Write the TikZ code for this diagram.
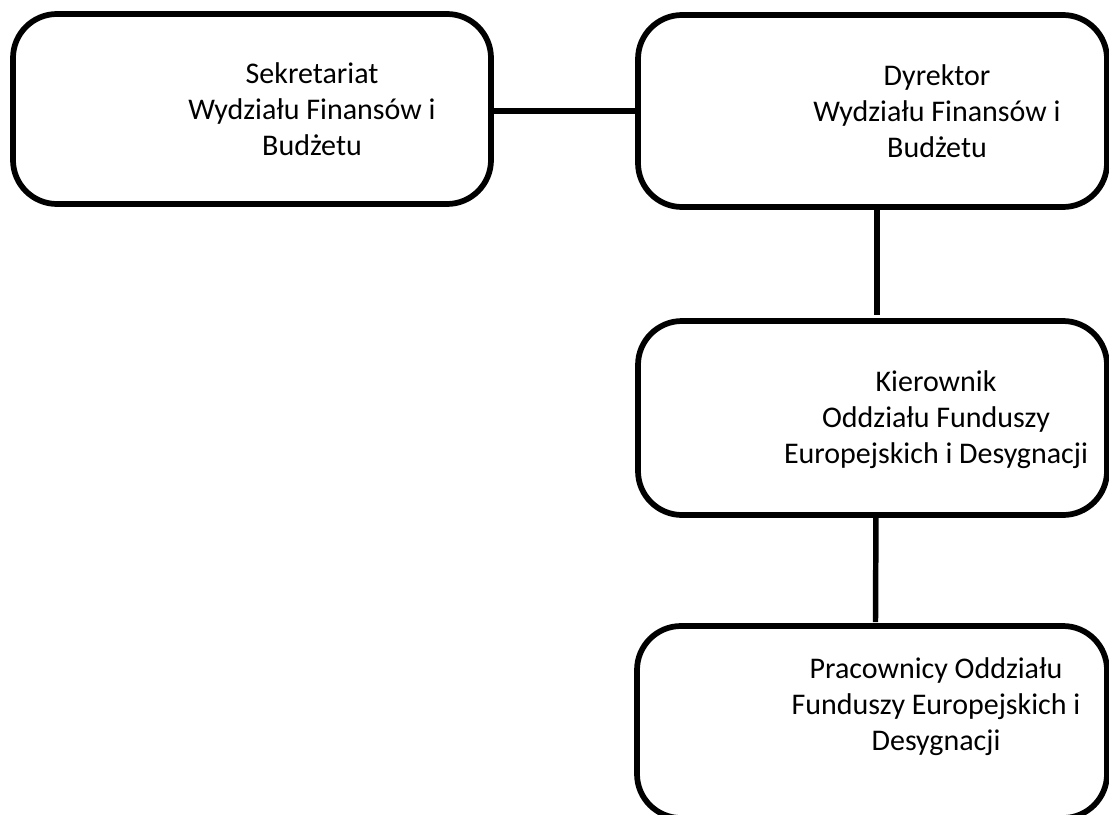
\documentclass[tikz,border=0pt]{standalone}
\usepackage{fontspec}
\setmainfont{Carlito}
\begin{document}
\begin{tikzpicture}[x=0.75pt,y=-0.75pt,
  orgbox/.style={draw=black,line width=4.3pt,rounded corners=33pt,
    inner sep=0pt,outer sep=0pt,fill=white},
  orgtext/.style={align=center,anchor=base,inner sep=0pt,
    font=\fontsize{22.5pt}{27pt}\selectfont},
  link/.style={draw=black,line width=4.1pt}]
\useasboundingbox (0,0) rectangle (1109,814);
\fill[white] (0,0) rectangle (1109,814);

% boxes
\node[orgbox,minimum width=358.5pt,minimum height=142.5pt] (sek) at (252,109) {};
\node[orgbox,minimum width=351.75pt,minimum height=144pt] (dyr) at (872.5,111) {};
\node[orgbox,minimum width=351.75pt,minimum height=145.5pt] (kier) at (872.5,418) {};
\node[orgbox,minimum width=352.5pt,minimum height=144pt] (prac) at (872,722) {};

% connectors
\draw[link] (dyr.west) -- (dyr.west -| sek.east);
\draw[link,shorten >=4.5pt] ([xshift=3.4pt]dyr.south) -- ([xshift=3.4pt]kier.north);
\draw[link,shorten >=3pt] ([xshift=2.6pt]kier.south) -- ([xshift=2.6pt]prac.north);

% labels (anchored on the baseline of the last line)
\node[orgtext] (sekT) at (312,155) {Sekretariat\\Wydziału Finansów i\\Budżetu};
\node[orgtext] (dyrT) at (937,157) {Dyrektor\\Wydziału Finansów i\\Budżetu};
\node[orgtext] (kierT) at (936,463) {Kierownik\\Oddziału Funduszy\\Europejskich i Desygnacji};
\node[orgtext] (pracT) at (936,750) {Pracownicy Oddziału\\Funduszy Europejskich i\\Desygnacji};
\end{tikzpicture}
\end{document}
